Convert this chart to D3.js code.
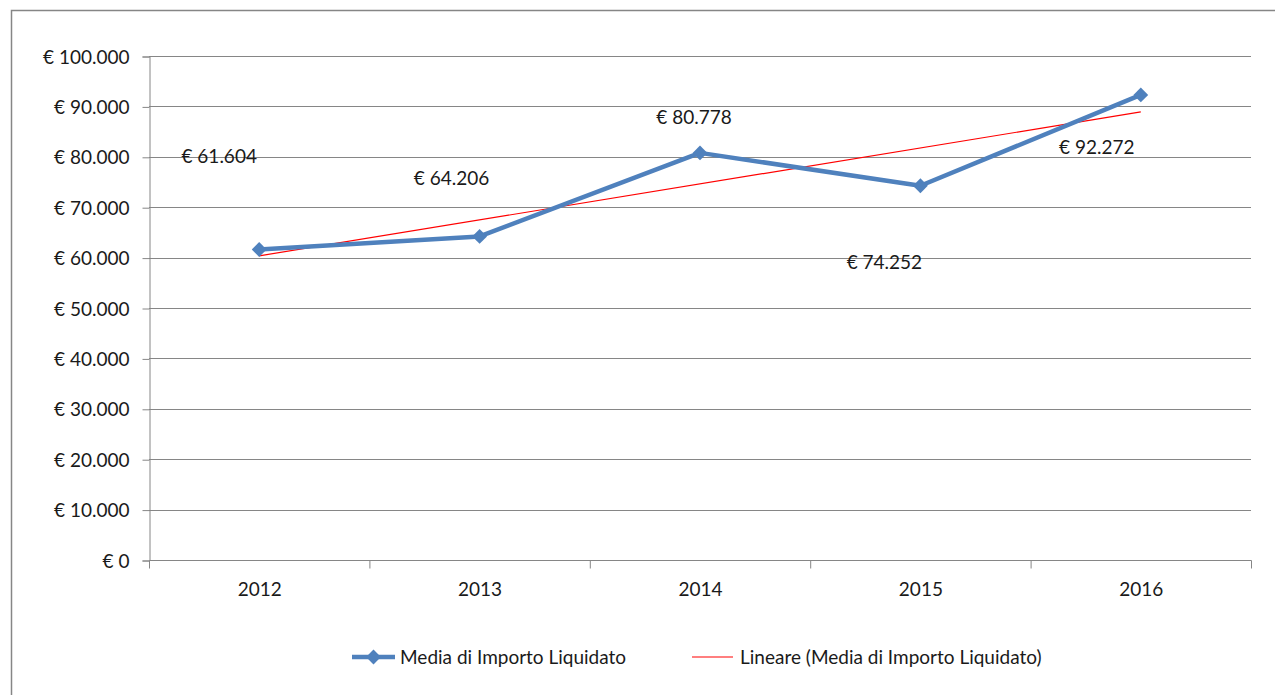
<!DOCTYPE html>
<html>
<head>
<meta charset="utf-8">
<script src="https://cdn.jsdelivr.net/npm/d3@7"></script>
<style>
  body { margin: 0; background: #fff; }
  svg text { font-family: Lato, "Open Sans", sans-serif; fill: #1a1a1a; }
</style>
</head>
<body>
<svg id="chart" width="1275" height="695"></svg>
<script>
const years = ['2012', '2013', '2014', '2015', '2016'];
const mediaImporto = [61604, 64206, 80778, 74252, 92272];
const yTicks = [0, 10000, 20000, 30000, 40000, 50000, 60000, 70000, 80000, 90000, 100000];
const seriesName = 'Media di Importo Liquidato';
const trendName = 'Lineare (Media di Importo Liquidato)';

// where excel left the data labels, relative to their points
const labelOffsets = [[-40, -93], [-28, -58], [-6, -36], [-36, 77], [-44, 52]];

const svg = d3.select('#chart');
const margin = { left: 149, right: 1251, top: 56, bottom: 560 };
const fontSize = 19;

const fmt = v => '€ ' + d3.format(',')(v).replace(/,/g, '.');

// outer chart frame
svg.append('rect')
  .attr('x', 11.5).attr('y', 10.5)
  .attr('width', 1300).attr('height', 800)
  .attr('fill', 'none')
  .attr('stroke', '#868686')
  .attr('stroke-width', 1.5);

const x = d3.scaleBand()
  .domain(years)
  .range([margin.left, margin.right]);

const y = d3.scaleLinear()
  .domain([0, 100000])
  .range([margin.bottom, margin.top]);

// gridlines
svg.append('g')
  .selectAll('line')
  .data(yTicks.filter(d => d > 0))
  .enter()
  .append('line')
  .attr('x1', margin.left)
  .attr('x2', margin.right)
  .attr('y1', d => Math.round(y(d)) + 0.5)
  .attr('y2', d => Math.round(y(d)) + 0.5)
  .attr('stroke', '#868686')
  .attr('stroke-width', 1);

// y axis
const yAxis = svg.append('g')
  .attr('transform', `translate(${margin.left + 0.5},0.5)`)
  .call(d3.axisLeft(y).tickValues(yTicks).tickFormat(fmt).tickSize(7).tickPadding(13));
yAxis.selectAll('text').style('font-size', fontSize + 'px').attr('dy', '0.35em');

// x axis with ticks on category boundaries
const xAxis = svg.append('g')
  .attr('transform', `translate(0.5,${margin.bottom + 0.5})`)
  .call(d3.axisBottom(x).tickSize(0).tickPadding(22));
xAxis.selectAll('text').style('font-size', fontSize + 'px');
xAxis.append('g')
  .selectAll('line')
  .data(years.concat(['end']))
  .enter()
  .append('line')
  .attr('x1', (d, i) => margin.left + i * x.step())
  .attr('x2', (d, i) => margin.left + i * x.step())
  .attr('y1', 0)
  .attr('y2', 8)
  .attr('stroke', '#868686');

[yAxis, xAxis].forEach(a => {
  a.select('.domain').attr('stroke', '#868686');
  a.selectAll('.tick line').attr('stroke', '#868686');
});
xAxis.select('.domain').attr('d', `M${margin.left},0H${margin.right}`);

const cx = d => x(d) + x.bandwidth() / 2;

// linear trend (least squares, same as excel's "Lineare")
const n = mediaImporto.length;
const xs = d3.range(1, n + 1);
const mx = d3.mean(xs), my = d3.mean(mediaImporto);
const slope = d3.sum(xs, (v, i) => (v - mx) * (mediaImporto[i] - my)) / d3.sum(xs, v => (v - mx) ** 2);
const intercept = my - slope * mx;

svg.append('line')
  .attr('x1', cx(years[0]))
  .attr('y1', y(intercept + slope * 1))
  .attr('x2', cx(years[n - 1]))
  .attr('y2', y(intercept + slope * n))
  .attr('stroke', '#ff0000')
  .attr('stroke-width', 1.2);

// series line
const line = d3.line()
  .x((d, i) => cx(years[i]))
  .y(d => y(d));

svg.append('path')
  .datum(mediaImporto)
  .attr('d', line)
  .attr('fill', 'none')
  .attr('stroke', '#4f81bd')
  .attr('stroke-width', 4.5)
  .attr('stroke-linejoin', 'round');

const diamond = d3.symbol().type(d3.symbolSquare).size(110);

svg.append('g')
  .selectAll('path')
  .data(mediaImporto)
  .enter()
  .append('path')
  .attr('d', diamond)
  .attr('transform', (d, i) => `translate(${cx(years[i])},${y(d)}) rotate(45)`)
  .attr('fill', '#4f81bd');

// data labels
svg.append('g')
  .selectAll('text')
  .data(mediaImporto)
  .enter()
  .append('text')
  .attr('x', (d, i) => cx(years[i]) + labelOffsets[i][0])
  .attr('y', (d, i) => y(d) + labelOffsets[i][1])
  .attr('dy', '0.35em')
  .attr('text-anchor', 'middle')
  .style('font-size', fontSize + 'px')
  .text(fmt);

// legend
const legend = svg.append('g').attr('transform', 'translate(352,657)');
legend.append('line')
  .attr('x1', 0).attr('x2', 43)
  .attr('stroke', '#4f81bd').attr('stroke-width', 4.5);
legend.append('path')
  .attr('d', diamond)
  .attr('transform', 'translate(21.5,0) rotate(45)')
  .attr('fill', '#4f81bd');
legend.append('text')
  .attr('x', 48).attr('dy', '0.35em')
  .style('font-size', fontSize + 'px')
  .text(seriesName);
legend.append('line')
  .attr('x1', 340).attr('x2', 381)
  .attr('stroke', '#ff0000').attr('stroke-width', 1.2);
legend.append('text')
  .attr('x', 388).attr('dy', '0.35em')
  .style('font-size', fontSize + 'px')
  .text(trendName);
</script>
</body>
</html>
